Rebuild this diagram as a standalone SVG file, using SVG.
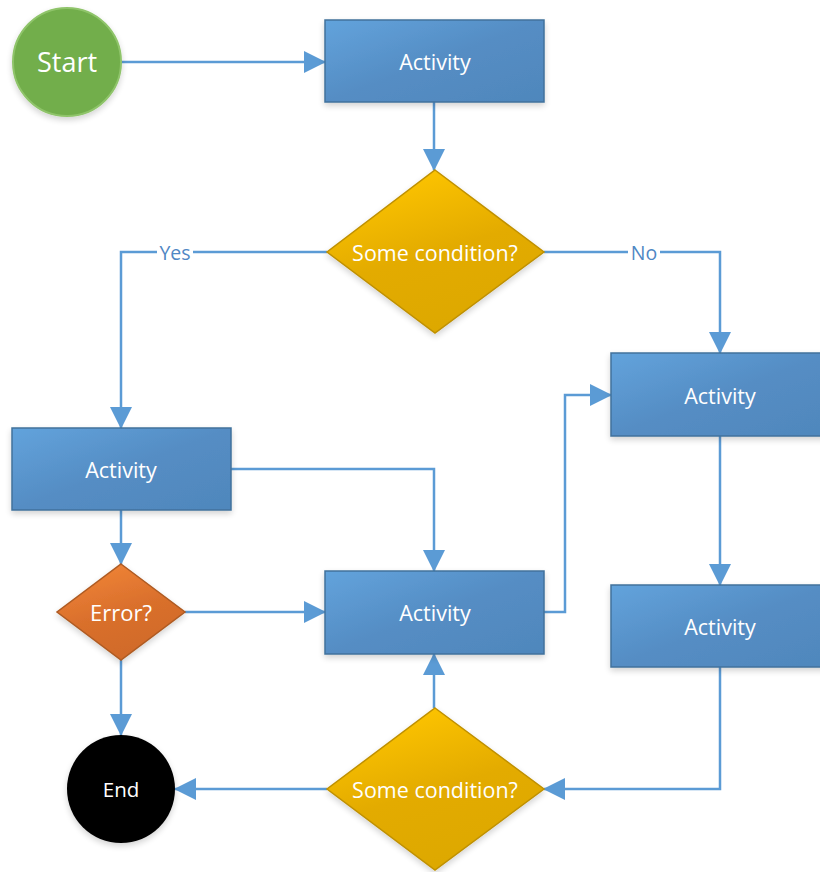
<svg xmlns="http://www.w3.org/2000/svg" width="820" height="872" viewBox="0 0 820 872">
<defs>
<linearGradient id="gBlue" x1="0" y1="0" x2="1" y2="1"><stop offset="0" stop-color="#62a3dc"/><stop offset="0.5" stop-color="#558dc4"/><stop offset="1" stop-color="#4f87bc"/></linearGradient>
<linearGradient id="gGold" x1="0.3" y1="0" x2="0.7" y2="1"><stop offset="0" stop-color="#ffc603"/><stop offset="0.5" stop-color="#e3ab00"/><stop offset="1" stop-color="#dca800"/></linearGradient>
<linearGradient id="gOrange" x1="0.3" y1="0" x2="0.7" y2="1"><stop offset="0" stop-color="#f08436"/><stop offset="0.5" stop-color="#d96f2c"/><stop offset="1" stop-color="#cf6a2b"/></linearGradient>
<filter id="sh" x="-20%" y="-20%" width="140%" height="140%"><feGaussianBlur in="SourceAlpha" stdDeviation="3"/><feOffset dx="0" dy="3"/><feComponentTransfer><feFuncA type="linear" slope="0.18"/></feComponentTransfer><feMerge><feMergeNode/><feMergeNode in="SourceGraphic"/></feMerge></filter>
<marker id="arr" markerUnits="userSpaceOnUse" markerWidth="22" markerHeight="22" viewBox="0 0 22 22" refX="21" refY="11" orient="auto"><path d="M0,0 L22,11 L0,22 Z" fill="#5b9bd5"/></marker>
</defs>
<style>
.c{fill:none;stroke:#5b9bd5;stroke-width:2.5;marker-end:url(#arr)}
.act{fill:url(#gBlue);stroke:#41719c;stroke-width:1.5;filter:url(#sh)}
.gold{fill:url(#gGold);stroke:#bf9000;stroke-width:1.5;filter:url(#sh)}
.org{fill:url(#gOrange);stroke:#ae5a21;stroke-width:1.5;filter:url(#sh)}
.t{font-family:"Open Sans","Noto Sans","DejaVu Sans",sans-serif;fill:#ffffff;text-anchor:middle;dominant-baseline:central;font-size:21.5px}
.lbl{font-family:"Open Sans","Noto Sans","DejaVu Sans",sans-serif;fill:#4f87c4;font-size:19.5px;text-anchor:middle;dominant-baseline:central}
</style>
<rect width="820" height="872" fill="#ffffff"/>
<g id="connectors">
<path class="c" d="M121,62 H325"/>
<path class="c" d="M434,102 V170"/>
<path class="c" d="M327,252 H121 V428"/>
<path class="c" d="M544,252 H720 V353"/>
<path class="c" d="M720,436 V585"/>
<path class="c" d="M121,510 V564"/>
<path class="c" d="M121,660 V735"/>
<path class="c" d="M185,612 H325"/>
<path class="c" d="M231,469 H434 V571"/>
<path class="c" d="M544,612 H565 V395 H611"/>
<path class="c" d="M434,708 V654"/>
<path class="c" d="M720,667 V789 H544"/>
<path class="c" d="M327,789 H175"/>
<rect x="157" y="241" width="36" height="22" fill="#ffffff"/>
<text class="lbl" x="175" y="252">Yes</text>
<rect x="628" y="241" width="32" height="22" fill="#ffffff"/>
<text class="lbl" x="644" y="252">No</text>
</g>
<g id="start"><circle cx="67" cy="62" r="54" fill="#72ae4b" stroke="#8fc46a" stroke-width="2" filter="url(#sh)"/><text class="t" x="67" y="61" style="font-size:27px">Start</text></g>
<g id="act1"><rect class="act" x="325" y="20" width="219" height="82"/><text class="t" x="435" y="61">Activity</text></g>
<g id="cond1"><polygon class="gold" points="435,170 544,252 435,333 327,252"/><text class="t" x="435" y="252">Some condition?</text></g>
<g id="actLeft"><rect class="act" x="12" y="428" width="219" height="82"/><text class="t" x="121" y="469">Activity</text></g>
<g id="actRight1"><rect class="act" x="611" y="353" width="220" height="83"/><text class="t" x="720" y="395">Activity</text></g>
<g id="error"><polygon class="org" points="121,564 185,612 121,660 57,612"/><text class="t" x="121" y="612" style="font-size:22px">Error?</text></g>
<g id="actMid"><rect class="act" x="325" y="571" width="219" height="83"/><text class="t" x="435" y="612">Activity</text></g>
<g id="actRight2"><rect class="act" x="611" y="585" width="220" height="82"/><text class="t" x="720" y="626">Activity</text></g>
<g id="end"><circle cx="121" cy="789" r="54" fill="#000000" filter="url(#sh)"/><text class="t" x="121" y="789" style="font-size:20.5px">End</text></g>
<g id="cond2"><polygon class="gold" points="435,708 544,789 435,870 327,789"/><text class="t" x="435" y="789">Some condition?</text></g>
</svg>
